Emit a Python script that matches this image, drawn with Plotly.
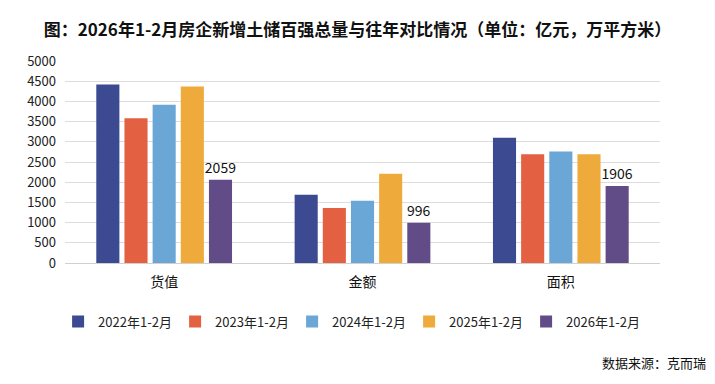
import plotly.graph_objects as go

categories = ["货值", "金额", "面积"]
series_names = ["2022年1-2月", "2023年1-2月", "2024年1-2月", "2025年1-2月", "2026年1-2月"]
v2022 = [4420, 1690, 3100]
v2023 = [3580, 1360, 2690]
v2024 = [3920, 1540, 2760]
v2025 = [4370, 2210, 2690]
v2026 = [2059, 996, 1906]
y_ticks = [0, 500, 1000, 1500, 2000, 2500, 3000, 3500, 4000, 4500, 5000]

colors = ["#3C4A91", "#E46042", "#6AA6D6", "#EEAA3A", "#624C88"]
values = [v2022, v2023, v2024, v2025, v2026]

FONT = "Noto Sans CJK SC, Liberation Sans, sans-serif"

fig = go.Figure()
for i, (name, vals) in enumerate(zip(series_names, values)):
    kw = {}
    if i == 4:
        kw = dict(text=[str(v) for v in vals], textposition="outside",
                  textfont=dict(size=14, color="#111111", family=FONT),
                  cliponaxis=False, constraintext="none")
    fig.add_trace(go.Bar(x=categories, y=vals, name=name,
                         marker=dict(color=colors[i], line=dict(width=0)), **kw))

fig.update_layout(
    width=715, height=384,
    barmode="group", bargap=0.29, bargroupgap=0.18,
    plot_bgcolor="white", paper_bgcolor="white",
    margin=dict(l=65, r=55, t=61, b=121, autoexpand=False),
    font=dict(family=FONT, size=13, color="#222222"),
    title=dict(text="<b>图：2026年1-2月房企新增土储百强总量与往年对比情况（单位：亿元，万平方米）</b>",
               x=0.5, xanchor="center", xref="container", y=1 - 30/384, yref="container", yanchor="middle",
               font=dict(size=17, color="#111111", family=FONT)),
    legend=dict(orientation="h", x=0.48, xanchor="center", y=-0.29, yanchor="middle",
                font=dict(size=13, color="#222222"), traceorder="normal",
                entrywidth=72, entrywidthmode="pixels"),
    showlegend=True,
)
fig.update_yaxes(range=[0, 5000], tickvals=y_ticks, showgrid=True, gridcolor="#DDDDDD",
                 gridwidth=1, zeroline=True, zerolinecolor="#D0D0D0", zerolinewidth=1,
                 ticks="", tickfont=dict(size=13, color="#222222"), ticklabelstandoff=8)
fig.update_xaxes(showline=True, linecolor="#D0D0D0", ticks="",
                 tickfont=dict(size=14, color="#111111"), ticklabelstandoff=6)

fig.add_annotation(text="数据来源：克而瑞", xref="paper", yref="paper",
                   x=1.0 + 48/595, xanchor="right", y=-(362-263)/202, yanchor="middle",
                   showarrow=False, font=dict(size=13, color="#111111", family=FONT))

fig.write_html("out.html", config={"displayModeBar": False},
               post_script="document.body.style.margin='0';document.body.style.padding='0';")
